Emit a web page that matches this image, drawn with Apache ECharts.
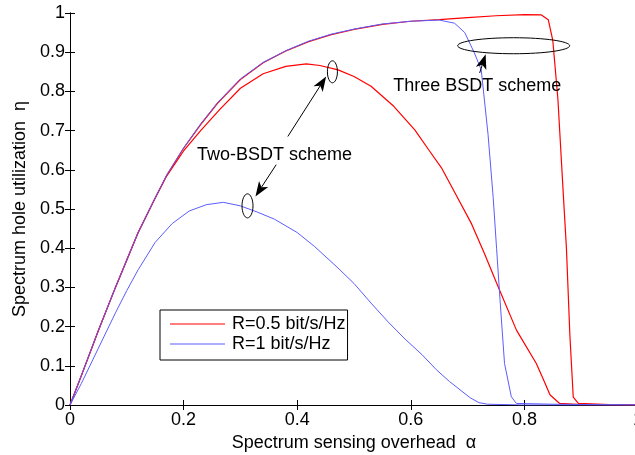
<!DOCTYPE html>
<html>
<head>
<meta charset="utf-8">
<style>html,body{margin:0;padding:0;background:#fff}#c{width:635px;height:455px}</style>
<script src="https://cdn.jsdelivr.net/npm/echarts@6/dist/echarts.min.js"></script>
</head>
<body>
<div id="c"></div>
<script>
// ---- data ----
const xTicks = [0, 0.2, 0.4, 0.6, 0.8, 1];
const yTicks = [0, 0.1, 0.2, 0.3, 0.4, 0.5, 0.6, 0.7, 0.8, 0.9, 1];

// Three-BSDT scheme, R=0.5 bit/s/Hz
const alphaThreeR05 = [0, 0.02, 0.05, 0.08, 0.1, 0.12, 0.15, 0.17, 0.2, 0.23, 0.26, 0.3, 0.34, 0.38, 0.42, 0.46, 0.5, 0.55, 0.6, 0.65, 0.7, 0.75, 0.8, 0.83, 0.842, 0.85, 0.859, 0.868, 0.874, 0.88, 0.886, 0.895, 0.95, 1.0];
const etaThreeR05   = [0, 0.075, 0.19, 0.30, 0.37, 0.44, 0.528, 0.585, 0.655, 0.715, 0.77, 0.83, 0.873, 0.903, 0.927, 0.945, 0.958, 0.971, 0.979, 0.983, 0.988, 0.993, 0.996, 0.995, 0.983, 0.93, 0.78, 0.55, 0.40, 0.18, 0.02, 0.004, 0.001, 0];

// Three-BSDT scheme, R=1 bit/s/Hz
const alphaThreeR1 = [0, 0.02, 0.05, 0.08, 0.1, 0.12, 0.15, 0.17, 0.2, 0.23, 0.26, 0.3, 0.34, 0.38, 0.42, 0.46, 0.5, 0.55, 0.6, 0.65, 0.677, 0.695, 0.712, 0.724, 0.736, 0.745, 0.751, 0.757, 0.765, 0.777, 0.786, 0.85, 1.0];
const etaThreeR1   = [0, 0.075, 0.19, 0.30, 0.37, 0.44, 0.528, 0.586, 0.656, 0.717, 0.772, 0.832, 0.874, 0.904, 0.928, 0.946, 0.959, 0.972, 0.979, 0.982, 0.974, 0.95, 0.898, 0.855, 0.69, 0.53, 0.40, 0.27, 0.106, 0.021, 0.004, 0.002, 0];

// Two-BSDT scheme, R=0.5 bit/s/Hz
const alphaTwoR05 = [0, 0.02, 0.05, 0.08, 0.1, 0.12, 0.15, 0.17, 0.2, 0.23, 0.263, 0.3, 0.34, 0.38, 0.416, 0.44, 0.472, 0.5, 0.53, 0.57, 0.607, 0.633, 0.654, 0.68, 0.707, 0.73, 0.751, 0.786, 0.821, 0.835, 0.845, 0.862, 0.9, 1.0];
const etaTwoR05   = [0, 0.075, 0.19, 0.30, 0.37, 0.44, 0.528, 0.584, 0.648, 0.70, 0.753, 0.808, 0.845, 0.864, 0.87, 0.866, 0.855, 0.838, 0.813, 0.762, 0.702, 0.648, 0.605, 0.535, 0.462, 0.385, 0.311, 0.191, 0.106, 0.06, 0.026, 0.004, 0.001, 0];

// Two-BSDT scheme, R=1 bit/s/Hz
const alphaTwoR1 = [0, 0.02, 0.05, 0.08, 0.1, 0.12, 0.15, 0.18, 0.21, 0.24, 0.27, 0.3, 0.33, 0.36, 0.4, 0.43, 0.47, 0.5, 0.53, 0.56, 0.59, 0.62, 0.645, 0.668, 0.69, 0.705, 0.72, 0.735, 0.8, 1.0];
const etaTwoR1   = [0, 0.055, 0.145, 0.235, 0.292, 0.345, 0.415, 0.463, 0.495, 0.511, 0.517, 0.508, 0.492, 0.474, 0.44, 0.405, 0.352, 0.31, 0.26, 0.212, 0.168, 0.128, 0.09, 0.06, 0.035, 0.018, 0.006, 0.002, 0, 0];

const legendNames = ['R=0.5 bit/s/Hz', 'R=1 bit/s/Hz'];

// annotation anchors in data coordinates
const labelTwo = {text: 'Two-BSDT scheme', at: [0.36, 0.638]};
const labelThree = {text: 'Three BSDT scheme', at: [0.717, 0.813]};
const ellipses = [
  {at: [0.462, 0.850], rx: 5, ry: 11},
  {at: [0.3125, 0.508], rx: 5.5, ry: 12},
  {at: [0.7811, 0.9165], rx: 56, ry: 8}
];
const arrows = [
  {from: [0.3835, 0.685], to: [0.451, 0.838]},
  {from: [0.363, 0.613], to: [0.3265, 0.532]},
  {from: [0.7212, 0.847], to: [0.7318, 0.895]}
];

const zip = (a, b) => a.map((v, i) => [v, b[i]]);
const FONT = 'Arial, "Liberation Sans", sans-serif';
const FS = 18;
const RED = '#ff0000', BLUE = '#5c5cff';

const chart = echarts.init(document.getElementById('c'), null, {renderer: 'canvas'});
const fmt = v => (Math.abs(v) < 1e-9 ? '0' : (Math.abs(v - 1) < 1e-9 ? '1' : String(+v.toFixed(1))));

const axisCommon = {
  min: 0, max: 1, interval: 0.2,
  axisLine: {show: true, lineStyle: {color: '#000', width: 1}},
  axisTick: {show: true, inside: true, length: 5, lineStyle: {color: '#000'}},
  splitLine: {show: false}
};

chart.setOption({
  animation: false,
  backgroundColor: '#fff',
  grid: {left: 70, right: -3, top: 13, bottom: 50, containLabel: false, outerBoundsMode: 'none'},
  xAxis: [
    Object.assign({}, axisCommon, {
      type: 'value', position: 'bottom',
      axisLabel: {color: '#000', fontSize: FS, fontFamily: FONT, margin: 6, formatter: fmt},
      name: 'Spectrum sensing overhead  α', nameLocation: 'middle', nameGap: 27,
      nameTextStyle: {color: '#000', fontSize: FS, fontFamily: FONT}
    }),
    Object.assign({}, axisCommon, {type: 'value', position: 'top', axisLabel: {show: false}})
  ],
  yAxis: [
    Object.assign({}, axisCommon, {
      type: 'value', position: 'left', interval: 0.1,
      axisLabel: {color: '#000', fontSize: FS, fontFamily: FONT, margin: 5, formatter: fmt},
      name: 'Spectrum hole utilization  η', nameLocation: 'middle', nameGap: 39,
      nameTextStyle: {color: '#000', fontSize: FS, fontFamily: FONT}
    }),
    Object.assign({}, axisCommon, {type: 'value', position: 'right', interval: 0.1, axisLabel: {show: false}})
  ],
  legend: {
    data: legendNames,
    orient: 'vertical', left: 160, top: 310,
    backgroundColor: '#fff', borderColor: '#000', borderWidth: 1,
    padding: [4, 2, 6, 10], itemWidth: 55, itemHeight: 1.2, itemGap: 0,
    icon: 'rect',
    textStyle: {color: '#000', fontSize: FS, fontFamily: FONT, lineHeight: 20, padding: [0, 0, 0, 2]},
    selectedMode: false
  },
  series: [
    {name: legendNames[0], type: 'line', data: zip(alphaThreeR05, etaThreeR05), symbol: 'none', lineStyle: {color: RED, width: 1.2}, itemStyle: {color: RED}, z: 3},
    {name: legendNames[1], type: 'line', data: zip(alphaThreeR1, etaThreeR1), symbol: 'none', lineStyle: {color: BLUE, width: 1}, itemStyle: {color: BLUE}, z: 4},
    {name: 'two05', type: 'line', data: zip(alphaTwoR05, etaTwoR05), symbol: 'none', lineStyle: {color: RED, width: 1.2}, itemStyle: {color: RED}, z: 3},
    {name: 'two1', type: 'line', data: zip(alphaTwoR1, etaTwoR1), symbol: 'none', lineStyle: {color: BLUE, width: 1}, itemStyle: {color: BLUE}, z: 3}
  ]
});

function px(p) { return chart.convertToPixel({xAxisIndex: 0, yAxisIndex: 0}, p); }

function arrowGraphic(a) {
  const f = px(a.from), t = px(a.to);
  const dx = t[0] - f[0], dy = t[1] - f[1];
  const L = Math.hypot(dx, dy), ux = dx / L, uy = dy / L, nx = -uy, ny = ux;
  const headL = 15, headW = 5.5, notch = 4;
  const bx = t[0] - ux * headL, by = t[1] - uy * headL;
  const nxp = t[0] - ux * (headL - notch), nyp = t[1] - uy * (headL - notch);
  return [
    {type: 'line', shape: {x1: f[0], y1: f[1], x2: nxp, y2: nyp}, style: {stroke: '#000', lineWidth: 1}, z: 100},
    {type: 'polygon', shape: {points: [[t[0], t[1]], [bx + nx * headW, by + ny * headW], [nxp, nyp], [bx - nx * headW, by - ny * headW]]}, style: {fill: '#000'}, z: 100}
  ];
}

const g = [];
ellipses.forEach(e => {
  const c = px(e.at);
  g.push({type: 'ellipse', shape: {cx: c[0], cy: c[1], rx: e.rx, ry: e.ry}, style: {fill: 'none', stroke: '#000', lineWidth: 1}, z: 100});
});
arrows.forEach(a => arrowGraphic(a).forEach(x => g.push(x)));
[labelTwo, labelThree].forEach(l => {
  const c = px(l.at);
  g.push({type: 'text', x: c[0], y: c[1], style: {text: l.text, fill: '#000', font: FS + 'px ' + FONT, textAlign: 'center', textVerticalAlign: 'middle'}, z: 100});
});
chart.setOption({graphic: g});
</script>
</body>
</html>
